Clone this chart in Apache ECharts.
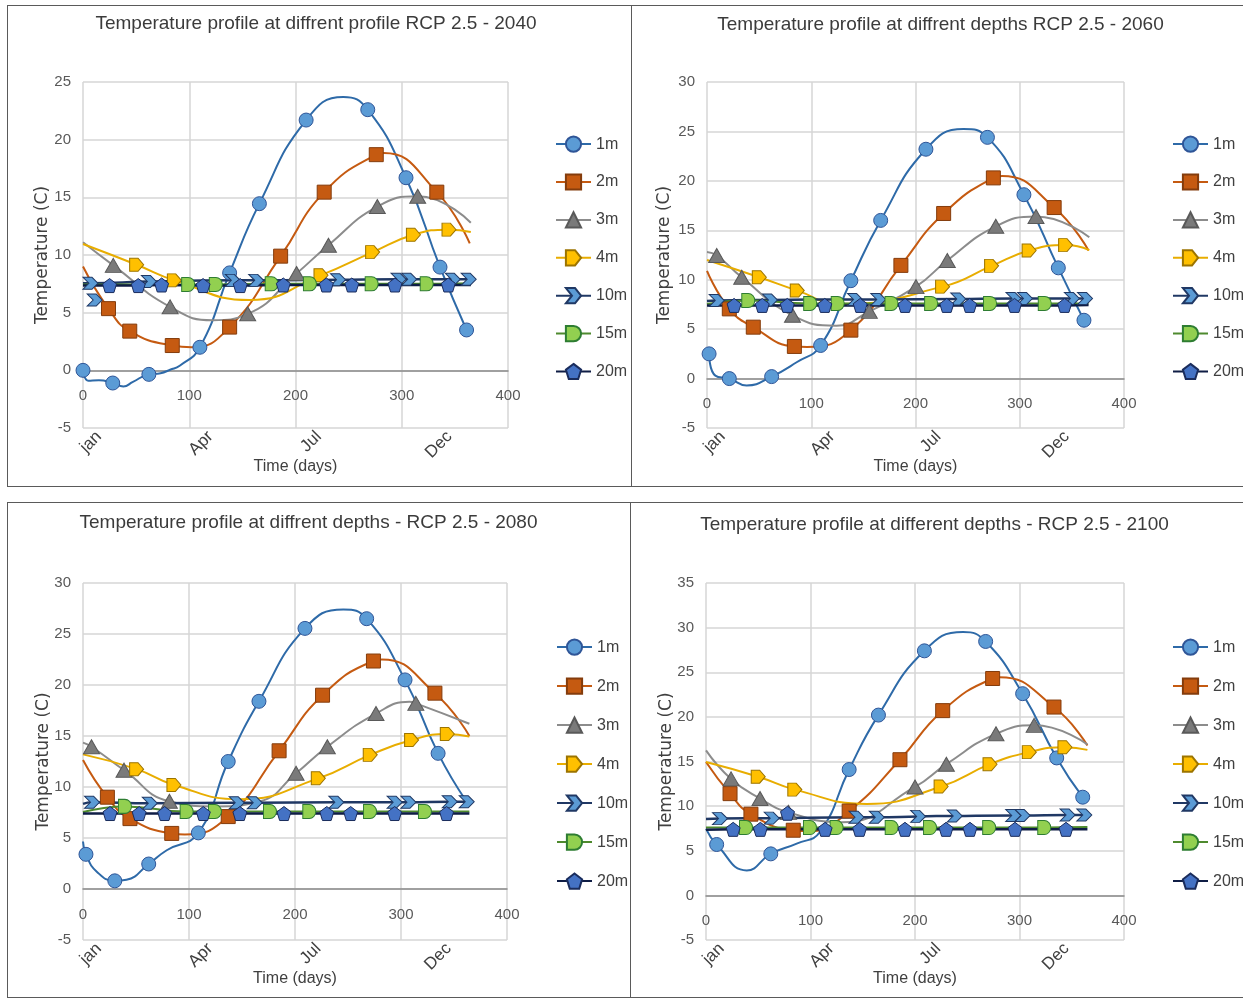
<!DOCTYPE html>
<html><head><meta charset="utf-8">
<script src="https://cdn.jsdelivr.net/npm/echarts@6/dist/echarts.min.js"></script>
<style>
html,body{margin:0;padding:0;background:#fff;width:1243px;height:998px;overflow:hidden;}
.panel{position:absolute;}
.frame{position:absolute;border:1px solid #5a5a5a;box-sizing:border-box;pointer-events:none;}
</style></head><body>
<div id="p1" class="panel" style="left:7px;top:5px;width:624px;height:481px"></div>
<div id="p2" class="panel" style="left:631px;top:5px;width:612px;height:481px"></div>
<div id="p3" class="panel" style="left:7px;top:502px;width:623px;height:495px"></div>
<div id="p4" class="panel" style="left:630px;top:502px;width:613px;height:495px"></div>
<div class="frame" style="left:7px;top:5px;width:625px;height:482px"></div>
<div class="frame" style="left:631px;top:5px;width:613px;height:482px"></div>
<div class="frame" style="left:7px;top:502px;width:624px;height:496px"></div>
<div class="frame" style="left:630px;top:502px;width:614px;height:496px"></div>
<script>
// ---------- shared labels ----------
const depthNames = ['1m','2m','3m','4m','10m','15m','20m'];
const monthLabels = ['jan','Apr','Jul','Dec'];
const monthDays = [15,120,222,345];
const titles = [
  'Temperature profile at diffrent profile RCP 2.5 - 2040',
  'Temperature profile at diffrent depths RCP 2.5 - 2060',
  'Temperature profile at diffrent depths - RCP 2.5 - 2080',
  'Temperature profile at different depths - RCP 2.5 - 2100'
];
const yMins = [-5,-5,-5,-5];
const yMaxes = [25,30,30,35];

// ---------- 2040 : [day, temperature] ; *_m = marked points, *_c = unmarked curve points ----------
const y2040_1m_m = [[0,0],[28,-1.1],[62,-0.35],[110,2.0],[138,8.45],[166,14.45],[210,21.7],[268,22.6],[304,16.7],[336,8.95],[361,3.5]];
const y2040_1m_c = [[5,-0.9],[15,-0.85],[38,-1.4],[47,-1.0],[73,-0.25],[82,0.05],[91,0.4],[245,23.7]];
const y2040_2m_m = [[24,5.35],[44,3.4],[84,2.15],[138,3.75],[186,9.9],[227,15.45],[276,18.7],[333,15.45]];
const y2040_2m_c = [[0,9.0],[102,2.0],[283,18.85],[364,11.0]];
const y2040_3m_m = [[28.5,9.1],[82,5.5],[155,4.9],[201,8.4],[231,10.85],[277,14.2],[315,15.1]];
const y2040_3m_c = [[0,11.1],[122,4.35],[365,12.8]];
const y2040_4m_m = [[50.5,9.15],[86,7.8],[224,8.25],[272.6,10.25],[311,11.75],[344.5,12.2]];
const y2040_4m_c = [[0,10.95],[157,6.1],[365,12.0]];
const y2040_10m_m = [[7,7.55],[62,7.7],[141,7.8],[163,7.8],[240,7.85],[297,7.9],[307,7.9],[348,7.9],[363,7.9]];
const y2040_10m_c = [[0,7.55]];
const y2040_10m_x = [[11,6.1]];
const y2040_15m_m = [[99,7.45],[125,7.45],[177.6,7.5],[213.6,7.5],[271.7,7.5],[323.5,7.5]];
const y2040_15m_c = [[0,7.45],[365,7.55]];
const y2040_20m_m = [[25,7.35],[52,7.35],[74,7.4],[113,7.35],[148,7.35],[188.5,7.4],[229,7.4],[253,7.4],[293.6,7.4],[343.8,7.4]];
const y2040_20m_c = [[0,7.35],[365,7.4]];

// ---------- 2060 ----------
const y2060_1m_m = [[2,2.5],[21.4,0],[62,0.2],[109,3.35],[138,9.9],[166.6,16.0],[210,23.2],[269,24.4],[304,18.6],[337,11.2],[361.6,5.9]];
const y2060_1m_c = [[8,0.3],[38,-0.7],[86,1.65],[246,25.25]];
const y2060_2m_m = [[21.4,7.05],[44.4,5.2],[83.8,3.25],[138,4.9],[186,11.45],[227,16.7],[274.7,20.3],[333,17.3]];
const y2060_2m_c = [[0,10.9],[96,3.2],[283,20.5],[366,12.95]];
const y2060_3m_m = [[9.3,12.45],[33.3,10.25],[82,6.4],[155.7,6.8],[200.5,9.3],[230.5,11.95],[277,15.4],[315.6,16.4]];
const y2060_3m_c = [[0,12.8],[124,5.35],[366.7,14.3]];
const y2060_4m_m = [[50.2,10.25],[86.6,8.9],[226,9.3],[273,11.4],[309,12.95],[344,13.5]];
const y2060_4m_c = [[0,12.0],[127.6,7.55],[366.7,13.0]];
const y2060_10m_m = [[9.3,7.9],[60.4,7.95],[142,8.0],[164.3,8.0],[241,8.05],[294,8.1],[305,8.1],[350,8.1],[362.6,8.1]];
const y2060_10m_c = [[0,7.85]];
const y2060_15m_m = [[39.6,7.9],[99,7.6],[125.4,7.6],[177,7.6],[215,7.6],[271.5,7.6],[324,7.6]];
const y2060_15m_c = [[0,7.55],[366,7.6]];
const y2060_20m_m = [[26,7.4],[53,7.4],[77,7.4],[113,7.4],[147,7.4],[190,7.4],[230,7.4],[252,7.4],[295,7.4],[343,7.4]];
const y2060_20m_c = [[0,7.4],[366,7.45]];

// ---------- 2080 ----------
const y2080_1m_m = [[2.8,3.4],[30,0.8],[62,2.45],[108.8,5.5],[137,12.5],[166,18.4],[209.4,25.55],[267.6,26.5],[303.8,20.5],[335,13.3]];
const y2080_1m_c = [[0,4.65],[13,1.7],[41,0.9],[79,3.8],[245.6,27.4],[362,8.55]];
const y2080_2m_m = [[23,9.0],[44.3,6.9],[83.7,5.45],[137,7.1],[185,13.55],[226,19.0],[274,22.35],[332,19.2]];
const y2080_2m_c = [[0,12.65],[96,5.35],[282,22.5],[364.5,15.0]];
const y2080_3m_m = [[8,13.95],[38.7,11.65],[81.5,8.6],[201,11.35],[230.5,13.95],[276.4,17.2],[314,18.2]];
const y2080_3m_c = [[0,14.35],[125,8.1],[167,8.6],[308,18.35],[364.5,16.2]];
const y2080_4m_m = [[50.6,11.75],[85.8,10.2],[222,10.85],[271,13.15],[310,14.6],[343.7,15.2]];
const y2080_4m_c = [[0,13.2],[148,8.8],[364.5,14.95]];
const y2080_10m_m = [[8.5,8.5],[63,8.4],[145,8.45],[162,8.45],[239,8.5],[294,8.5],[307,8.5],[346,8.55],[362,8.55]];
const y2080_10m_c = [[0,8.35]];
const y2080_15m_m = [[39.6,8.1],[97.8,7.6],[124.5,7.6],[176.4,7.6],[213.5,7.6],[270.8,7.6],[322.6,7.6]];
const y2080_15m_c = [[0,7.55],[364.5,7.6]];
const y2080_20m_m = [[25.5,7.4],[53,7.4],[77,7.4],[113.5,7.4],[148,7.4],[189.6,7.4],[230,7.4],[252.5,7.4],[294,7.4],[343,7.4]];
const y2080_20m_c = [[0,7.4],[364.5,7.4]];

// ---------- 2100 ----------
const y2100_1m_m = [[10.2,5.7],[62,4.65],[137,14.1],[165,20.2],[209,27.4],[267.6,28.45],[303,22.6],[335.6,15.4],[360.5,11.0]];
const y2100_1m_c = [[0,7.45],[39,2.8],[86.8,5.8],[109,7.1],[246,29.5]];
const y2100_2m_m = [[23,11.4],[43,9.1],[83.5,7.3],[137,9.45],[185.6,15.2],[226.5,20.7],[274.3,24.3],[333,21.1]];
const y2100_2m_c = [[0,14.95],[100,7.2],[281,24.45],[365,16.8]];
const y2100_3m_m = [[24,13.05],[51.7,10.85],[79,9.3],[200,12.15],[230,14.7],[277.5,18.1],[314,19.05]];
const y2100_3m_c = [[0,16.25],[130,8.2],[365,16.9]];
const y2100_4m_m = [[50,13.3],[85,11.85],[225,12.2],[271.8,14.7],[309.4,16.05],[343.5,16.6]];
const y2100_4m_c = [[0,14.95],[153.8,10.25],[365,16.3]];
const y2100_10m_m = [[13.4,8.6],[62.9,8.65],[144,8.75],[163.4,8.75],[203,8.85],[238,8.9],[294,8.95],[303,8.95],[346,9.0],[362,9.0]];
const y2100_10m_c = [[0,8.55]];
const y2100_15m_m = [[38.3,7.6],[99.5,7.6],[125,7.6],[177.7,7.6],[214.4,7.6],[271,7.6],[323.7,7.6]];
const y2100_15m_c = [[0,7.6],[365,7.65]];
const y2100_20m_m = [[26,7.4],[52,7.4],[114,7.4],[147,7.4],[190.4,7.4],[229.7,7.4],[252.6,7.4],[295.7,7.4],[344.5,7.4]];
const y2100_20m_c = [[0,7.35],[365,7.4]];
const y2100_20m_x = [[78,9.2]];

// ---------- styles ----------
const NARROW = "'Liberation Sans Narrow','Arial Narrow','Liberation Sans',sans-serif";
const depthStyle = {
  '1m':  {line:'#2e6aa8', fill:'#5b9bd5', border:'#2f5597', width:2, symbol:'circle', size:14},
  '2m':  {line:'#c55a11', fill:'#c55a11', border:'#843c0c', width:2, symbol:'rect', size:14},
  '3m':  {line:'#8c8c8c', fill:'#7a7a7a', border:'#595959', width:2, symbol:'triangle', size:[16,14]},
  '4m':  {line:'#e8ad00', fill:'#ffc000', border:'#9c7400', width:2, symbol:'path://M0,0L6,0L10,5L6,10L0,10Z', size:[14,13]},
  '10m': {line:'#203864', fill:'#5b9bd5', border:'#203864', width:2.5, symbol:'path://M0,0L6,0L10,5L6,10L0,10L4,5Z', size:[15,12]},
  '15m': {line:'#4e8a2e', fill:'#92d050', border:'#2e7d32', width:2, symbol:'path://M0,0L5,0A5,5 0 0 1 5,10L0,10Z', size:[13,14]},
  '20m': {line:'#0f1d45', fill:'#4472c4', border:'#1a2c5c', width:2.5, symbol:'path://M5,0L10,3.8L8.1,10L1.9,10L0,3.8Z', size:[14,14]}
};

const panelData = [
  {'1m':[y2040_1m_m,y2040_1m_c],'2m':[y2040_2m_m,y2040_2m_c],'3m':[y2040_3m_m,y2040_3m_c],'4m':[y2040_4m_m,y2040_4m_c],
   '10m':[y2040_10m_m,y2040_10m_c],'15m':[y2040_15m_m,y2040_15m_c],'20m':[y2040_20m_m,y2040_20m_c]},
  {'1m':[y2060_1m_m,y2060_1m_c],'2m':[y2060_2m_m,y2060_2m_c],'3m':[y2060_3m_m,y2060_3m_c],'4m':[y2060_4m_m,y2060_4m_c],
   '10m':[y2060_10m_m,y2060_10m_c],'15m':[y2060_15m_m,y2060_15m_c],'20m':[y2060_20m_m,y2060_20m_c]},
  {'1m':[y2080_1m_m,y2080_1m_c],'2m':[y2080_2m_m,y2080_2m_c],'3m':[y2080_3m_m,y2080_3m_c],'4m':[y2080_4m_m,y2080_4m_c],
   '10m':[y2080_10m_m,y2080_10m_c],'15m':[y2080_15m_m,y2080_15m_c],'20m':[y2080_20m_m,y2080_20m_c]},
  {'1m':[y2100_1m_m,y2100_1m_c],'2m':[y2100_2m_m,y2100_2m_c],'3m':[y2100_3m_m,y2100_3m_c],'4m':[y2100_4m_m,y2100_4m_c],
   '10m':[y2100_10m_m,y2100_10m_c],'15m':[y2100_15m_m,y2100_15m_c],'20m':[y2100_20m_m,y2100_20m_c]}
];
const panelExtras = [ [['10m',y2040_10m_x]], [], [], [['20m',y2100_20m_x]] ];

// layout (relative to each panel)
const layouts = [
  {el:'p1', titleX:309, titleTop:9,  grid:[76,77,425,346], legend:[548,130.5,18.7], yGap:32},
  {el:'p2', titleX:309.5, titleTop:10, grid:[76,77,417,346], legend:[541,130.5,18.7], yGap:34},
  {el:'p3', titleX:301.5, titleTop:11, grid:[76,81,424,357], legend:[549,136.5,19.8], yGap:31},
  {el:'p4', titleX:304.5, titleTop:13, grid:[76,81,418,357], legend:[542,136.5,19.8], yGap:31}
];

function merge(marks, curve) {
  const pts = marks.map(p => ({value:[p[0],p[1]]}))
    .concat(curve.map(p => ({value:[p[0],p[1]], symbol:'none'})));
  pts.sort((a,b) => a.value[0]-b.value[0]);
  return pts;
}

function buildOption(i) {
  const L = layouts[i];
  const gridH = L.grid[3];
  // move the numeric x axis up from the plot bottom to the y = 0 line
  const zeroOffset = -gridH * (0 - yMins[i]) / (yMaxes[i] - yMins[i]);
  const series = depthNames.map(name => {
    const st = depthStyle[name];
    const d = panelData[i][name];
    return {
      type:'line', name, data: merge(d[0], d[1]), smooth:0.5,
      symbol: st.symbol, symbolSize: st.size, showAllSymbol:true,
      itemStyle:{color:st.fill, borderColor:st.border, borderWidth:1},
      lineStyle:{color:st.line, width:st.width},
      emphasis:{disabled:true}, animation:false, clip:false
    };
  });
  panelExtras[i].forEach(([name, pts]) => {
    const st = depthStyle[name];
    series.push({
      type:'scatter', name:'_extra_'+name, data: pts,
      symbol: st.symbol, symbolSize: st.size,
      itemStyle:{color:st.fill, borderColor:st.border, borderWidth:1, opacity:1},
      emphasis:{disabled:true}, animation:false, z:3
    });
  });
  return {
    animation:false,
    title:{text:titles[i], left:L.titleX, top:L.titleTop, textAlign:'center', padding:0,
      textStyle:{fontFamily:NARROW, fontSize:19, fontWeight:'normal', color:'#3b3b3b'}},
    grid:{left:L.grid[0], top:L.grid[1], width:L.grid[2], height:gridH, containLabel:false, outerBoundsMode:'none'},
    legend:{orient:'vertical', left:L.legend[0], top:L.legend[1], itemGap:L.legend[2] + 2, padding:0,
      itemWidth:35, itemHeight:19, data:depthNames, selectedMode:false,
      textStyle:{fontFamily:NARROW, fontSize:16, color:'#404040'}},
    xAxis:[
      {type:'value', min:0, max:400, interval:100, position:'bottom', offset:zeroOffset,
       axisLine:{show:true, onZero:false, lineStyle:{color:'#8a8a8a', width:1.5}},
       axisTick:{show:false},
       axisLabel:{color:'#595959', fontSize:15, fontFamily:NARROW, margin:18, showMinLabel:true, showMaxLabel:true},
       splitLine:{show:true, lineStyle:{color:'#d6d6d6', width:1.5}}},
      {type:'value', min:0, max:400, position:'bottom',
       axisLine:{show:false, onZero:false}, axisTick:{show:false}, splitLine:{show:false},
       axisLabel:{customValues:monthDays, rotate:45, margin:6, fontSize:17, fontFamily:NARROW, color:'#404040',
         formatter: v => { const k = monthDays.indexOf(v); return k >= 0 ? monthLabels[k] : ''; }},
       name:'Time (days)', nameLocation:'middle', nameGap:31, nameMoveOverlap:false,
       nameTextStyle:{fontFamily:NARROW, fontSize:16, color:'#404040'}}
    ],
    yAxis:{type:'value', min:yMins[i], max:yMaxes[i], interval:5,
      axisLine:{show:false}, axisTick:{show:false},
      axisLabel:{color:'#595959', fontSize:15, fontFamily:NARROW, margin:12},
      splitLine:{show:true, lineStyle:{color:'#d6d6d6', width:1.5}},
      name:'Temperature (C)', nameLocation:'middle', nameGap:L.yGap, nameMoveOverlap:false,
      nameTextStyle:{fontFamily:"'DejaVu Sans',sans-serif", fontSize:17, color:'#404040'}},
    series
  };
}

layouts.forEach((L, i) => {
  const chart = echarts.init(document.getElementById(L.el), null, {renderer:'canvas'});
  chart.setOption(buildOption(i));
});
</script>
</body></html>
